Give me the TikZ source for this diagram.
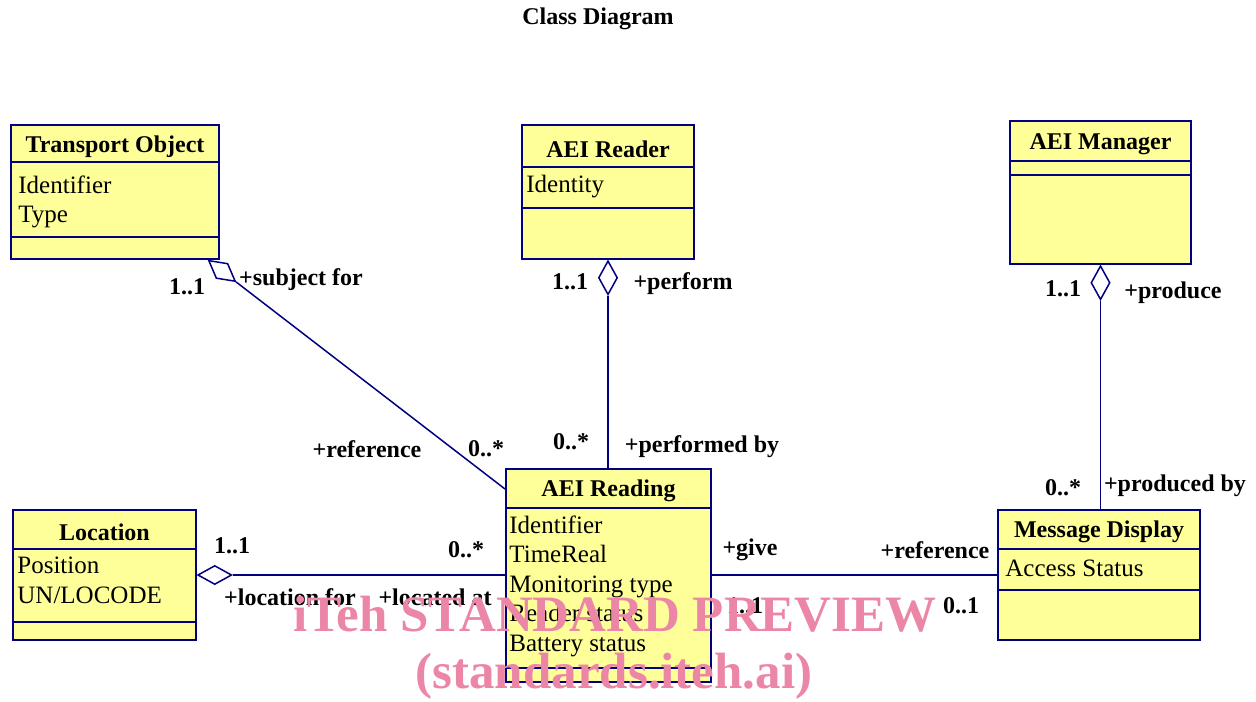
\documentclass[tikz,border=0pt]{standalone}
\usepackage{fontspec}
\setmainfont{Liberation Serif}
\usetikzlibrary{shapes.geometric,fit}
\definecolor{umlblue}{RGB}{0,0,128}
\definecolor{umlfill}{RGB}{255,255,153}
\definecolor{markpink}{RGB}{236,134,166}

\tikzset{
  classbox/.style={draw=umlblue, fill=umlfill, line width=1pt, inner sep=0pt},
  classtitle/.style={font=\fontsize{12}{14}\selectfont\bfseries, inner sep=0pt},
  attrtext/.style={font=\fontsize{12.5}{14.8}\selectfont, align=left, inner sep=0pt, anchor=north west},
  sepline/.style={draw=umlblue, line width=1pt},
  umlline/.style={draw=umlblue, line width=0.75pt},
  aggr/.style={draw=umlblue, fill=white, line width=0.75pt, shape=diamond, inner sep=0pt, minimum width=17pt, minimum height=9.5pt},
  rolelabel/.style={font=\fontsize{12}{14}\selectfont\bfseries, inner sep=0pt},
}

\begin{document}
\begin{tikzpicture}[x=0.5pt,y=-0.5pt]
	\useasboundingbox (0,0) rectangle (1256,701);
	\node[classtitle] (diagtitle) at (598,19) {Class Diagram};

	% classes
	\node[classbox, fit={(11,125) (219,259)}] (transport) {};
	\draw[sepline] (transport.west |- 0,162) -- (transport.east |- 0,162);
	\draw[sepline] (transport.west |- 0,237) -- (transport.east |- 0,237);
	\node[classtitle] (transporttitle) at (115,146.5) {Transport Object};
	\node[attrtext] (transportattr) at (18,175) {Identifier\\Type};

	\node[classbox, fit={(522,125) (694,259)}] (reader) {};
	\draw[sepline] (reader.west |- 0,167) -- (reader.east |- 0,167);
	\draw[sepline] (reader.west |- 0,208) -- (reader.east |- 0,208);
	\node[classtitle] (readertitle) at (608,149) {AEI Reader};
	\node[attrtext] (readerattr) at (526,175) {Identity};

	\node[classbox, fit={(1010,121) (1191,264)}] (manager) {};
	\draw[sepline] (manager.west |- 0,161) -- (manager.east |- 0,161);
	\draw[sepline] (manager.west |- 0,175) -- (manager.east |- 0,175);
	\node[classtitle] (managertitle) at (1100.5,144) {AEI Manager};

	\node[classbox, fit={(506,469) (711,682)}] (reading) {};
	\draw[sepline] (reading.west |- 0,508) -- (reading.east |- 0,508);
	\draw[sepline] (reading.west |- 0,668) -- (reading.east |- 0,668);
	\node[classtitle] (readingtitle) at (608.5,491) {AEI Reading};
	\node[attrtext] (readingattr) at (509,515) {Identifier\\TimeReal\\Monitoring type\\Reader status\\Battery status};

	\node[classbox, fit={(13,510) (196,640)}] (location) {};
	\draw[sepline] (location.west |- 0,549) -- (location.east |- 0,549);
	\draw[sepline] (location.west |- 0,622) -- (location.east |- 0,622);
	\node[classtitle] (locationtitle) at (104.5,532) {Location};
	\node[attrtext] (locationattr) at (17,557) {Position\\UN/LOCODE};

	\node[classbox, fit={(998,510) (1200,640)}] (display) {};
	\draw[sepline] (display.west |- 0,549) -- (display.east |- 0,549);
	\draw[sepline] (display.west |- 0,590) -- (display.east |- 0,590);
	\node[classtitle] (displaytitle) at (1099,532) {Message Display};
	\node[attrtext] (displayattr) at (1005,560) {Access Status};

	% associations
	\node[aggr, rotate=-38, anchor=west] (transportdia) at ([xshift=-6pt]transport.south east) {};
	\draw[umlline] (transportdia.east) -- (reading.west |- 0,489);
	\node[aggr, rotate=90, anchor=east] (readerdia) at (reader.south) {};
	\draw[umlline] (readerdia.west) -- (reading.north -| readerdia.west);
	\node[aggr, rotate=90, anchor=east] (managerdia) at (manager.south) {};
	\draw[umlline] (managerdia.west) -- (display.north -| managerdia.west);
	\node[aggr, anchor=west] (locationdia) at (location.east) {};
	\draw[umlline] (locationdia.east) -- (reading.west |- locationdia.east);
	\draw[umlline] (reading.east |- display.west) -- (display.west);

	% role names and multiplicities
	\node[rolelabel] (transportmult) at (187,287) {1..1};
	\node[rolelabel] (subjectrole) at (301,280) {+subject for};
	\node[rolelabel] (referencerole) at (367,449) {+reference};
	\node[rolelabel] (refmult) at (486,449) {0..*};
	\node[rolelabel] (readermult) at (570,282) {1..1};
	\node[rolelabel] (performrole) at (683,284) {+perform};
	\node[rolelabel] (performedmult) at (571,442) {0..*};
	\node[rolelabel] (performedrole) at (702,447) {+performed by};
	\node[rolelabel] (managermult) at (1063,289) {1..1};
	\node[rolelabel] (producerole) at (1173,293) {+produce};
	\node[rolelabel] (producedmult) at (1063,488) {0..*};
	\node[rolelabel] (producedrole) at (1175,486) {+produced by};
	\node[rolelabel] (locationmult) at (232,546) {1..1};
	\node[rolelabel] (locatedmult) at (466,550) {0..*};
	\node[rolelabel] (locationrole) at (290,597) {+location for};
	\node[rolelabel] (locatedrole) at (435,597) {+located at};
	\node[rolelabel] (giverole) at (750,550) {+give};
	\node[rolelabel] (displayrole) at (935,550) {+reference};
	\node[rolelabel] (givemult) at (745,606) {1..1};
	\node[rolelabel] (displaymult) at (961,606) {0..1};

	% watermark
	\node[font=\fontsize{25.5}{28}\selectfont\bfseries, text=markpink, inner sep=0pt] (markline) at (615,614) {iTeh STANDARD PREVIEW};
	\node[font=\fontsize{25.5}{28}\selectfont\bfseries, text=markpink, inner sep=0pt] (marksite) at (614,676) {(standards.iteh.ai)};
\end{tikzpicture}
\end{document}
